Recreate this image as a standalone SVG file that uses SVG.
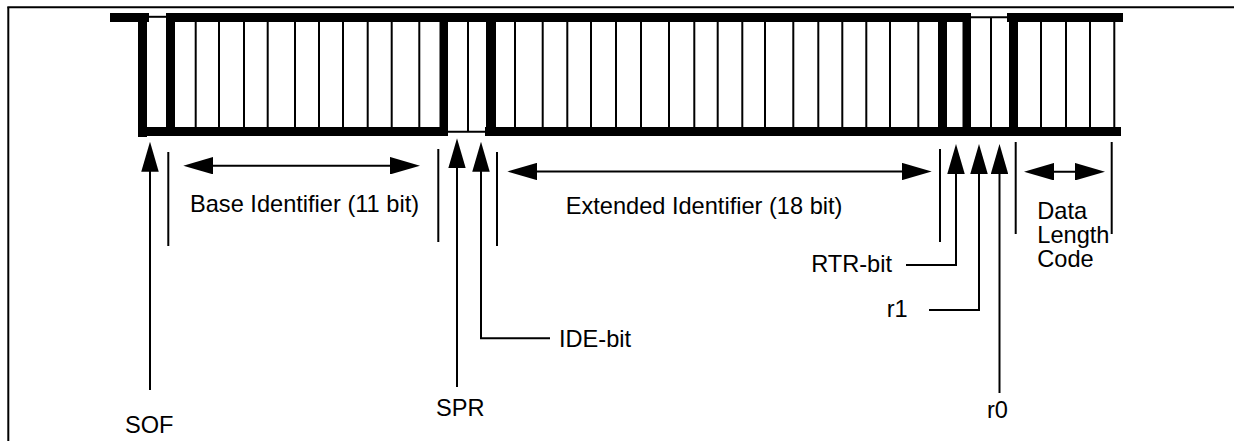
<svg xmlns="http://www.w3.org/2000/svg" width="1234" height="441" viewBox="0 0 1234 441">
<style>
text{font-family:"Liberation Sans",Arial,Helvetica,sans-serif;font-size:23.6px;fill:#000}
.thin{stroke:#000;stroke-width:2;fill:none}
.ln{stroke:#000;stroke-width:2;fill:none}
.arr{stroke:#000;stroke-width:2;fill:none;marker-end:url(#ah)}
.dbl{stroke:#000;stroke-width:2;fill:none;marker-end:url(#ah);marker-start:url(#ah)}
.thick{fill:#000}
</style>
<defs>
<marker id="ah" viewBox="0 0 30 17.5" refX="24" refY="8.75" markerWidth="30" markerHeight="17.5" markerUnits="userSpaceOnUse" orient="auto-start-reverse">
<path d="M0,0 L30,8.75 L0,17.5 z" fill="#000"/>
</marker>
</defs>
<rect width="1234" height="441" fill="#fff"/>
<g id="frame">
<line class="ln" x1="7.3" y1="7.3" x2="1234" y2="7.3"/>
<line class="ln" x1="8.3" y1="7.3" x2="8.3" y2="441"/>
</g>
<g id="waveform">
<!-- thick levels and edges -->
<rect class="thick" x="110" y="13" width="39" height="9"/>
<rect class="thick" x="138" y="13" width="9" height="124"/>
<rect class="thick" x="166" y="13" width="9" height="123"/>
<rect class="thick" x="166" y="13" width="804" height="9"/>
<rect class="thick" x="138" y="127" width="310" height="9"/>
<rect class="thick" x="439.5" y="13" width="8.5" height="123"/>
<rect class="thick" x="486" y="13" width="10" height="123"/>
<rect class="thick" x="485" y="127" width="636" height="9"/>
<rect class="thick" x="938" y="13" width="9" height="123"/>
<rect class="thick" x="962.5" y="13" width="8.5" height="123"/>
<rect class="thick" x="1009" y="13" width="9" height="123"/>
<rect class="thick" x="1007" y="13" width="116" height="9"/>
<!-- thin levels -->
<line class="thin" x1="147" y1="16.8" x2="166" y2="16.8"/>
<line class="thin" x1="448" y1="131.7" x2="485" y2="131.7"/>
<line class="thin" x1="970" y1="17.3" x2="1009" y2="17.3"/>
<!-- bit separators -->
<path class="thin" d="M195.7,22V127M219,22V127M244,22V127M267.7,22V127M295,22V127M319,22V127M343,22V127M367.7,22V127M391.7,22V127M419.3,22V127"/>
<path class="thin" d="M468,22V131"/>
<path class="thin" d="M515,22V127M542.7,22V127M567.3,22V127M591,22V127M616,22V127M641,22V127M669,22V127M694.3,22V127M717.7,22V127M742.3,22V127M765,22V127M793.3,22V127M818.3,22V127M842.3,22V127M866.3,22V127M890,22V127M918.3,22V127"/>
<path class="thin" d="M991,18V127"/>
<path class="thin" d="M1041,22V127M1066,22V127M1090,22V127M1114.3,22V127"/>
</g>
<g id="connectors">
<!-- field boundary ticks -->
<path class="ln" d="M168.3,152V246M438.3,149V242M497,152V246M940,149V242M1015.7,142V234M1111.7,142V234"/>
<!-- span arrows -->
<line class="dbl" x1="189.3" y1="165.7" x2="414" y2="165.7"/>
<line class="dbl" x1="513.3" y1="171.5" x2="925.7" y2="171.5"/>
<line class="dbl" x1="1030" y1="171.7" x2="1099" y2="171.7"/>
<!-- pointer arrows -->
<line class="arr" x1="150" y1="390" x2="150" y2="147.7"/>
<line class="arr" x1="457" y1="387" x2="457" y2="144.3"/>
<path class="ln" d="M550,338.3H481V147.7" style="marker-end:url(#ah)"/>
<path class="ln" d="M906,265H956V150" style="marker-end:url(#ah)"/>
<path class="ln" d="M929,310H979V150" style="marker-end:url(#ah)"/>
<line class="arr" x1="999.5" y1="393" x2="999.5" y2="150"/>
</g>
<g id="labels">
<text id="lbl-base" x="190" y="212">Base Identifier (11 bit)</text>
<text id="lbl-ext" x="565.7" y="214">Extended Identifier (18 bit)</text>
<text id="lbl-sof" x="125" y="433">SOF</text>
<text id="lbl-spr" x="436" y="416">SPR</text>
<text id="lbl-ide" x="559" y="347">IDE-bit</text>
<text id="lbl-rtr" x="892" y="272" text-anchor="end">RTR-bit</text>
<text id="lbl-r1" x="886.7" y="317">r1</text>
<text id="lbl-r0" x="987" y="418">r0</text>
<text id="lbl-dlc" x="1037.3" y="218.5">Data<tspan x="1037.3" y="242.5">Length</tspan><tspan x="1037.3" y="266.5">Code</tspan></text>
</g>
</svg>
